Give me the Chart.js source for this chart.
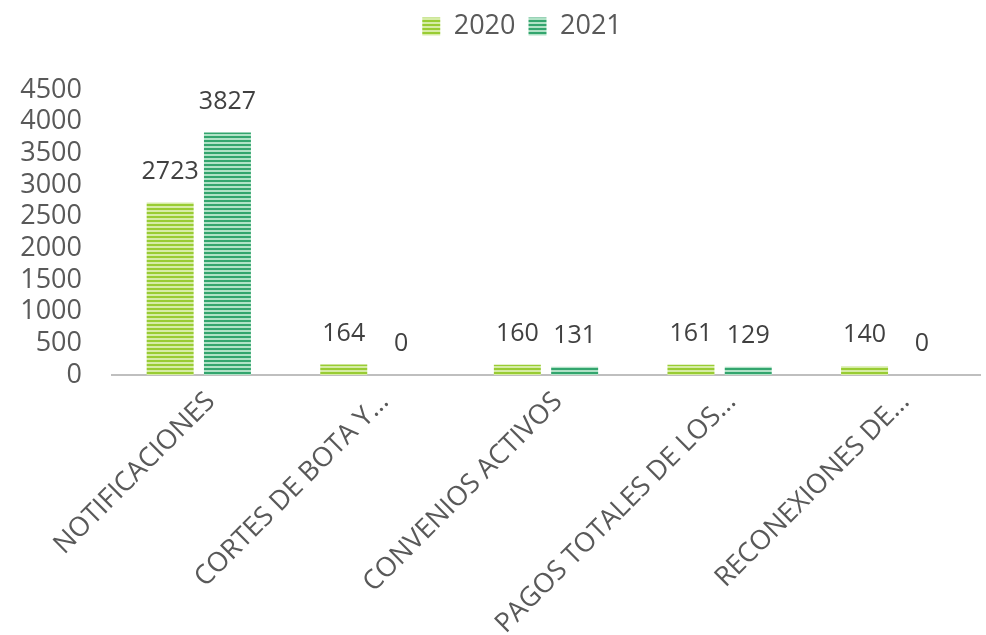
<!DOCTYPE html>
<html>
<head>
<meta charset="utf-8">
<script src="https://cdn.jsdelivr.net/npm/chart.js@4/dist/chart.umd.min.js"></script>
<style>
  body { margin: 0; background: #fff; }
  #wrap { width: 986px; height: 635px; }
</style>
</head>
<body>
<div id="wrap"><canvas id="grafico"></canvas></div>
<script>
const categorias = ["NOTIFICACIONES", "CORTES DE BOTA Y…", "CONVENIOS ACTIVOS", "PAGOS TOTALES DE LOS…", "RECONEXIONES DE…"];
const datos2020 = [2723, 164, 160, 161, 140];
const datos2021 = [3827, 0, 131, 129, 0];
const ticksY = [0, 500, 1000, 1500, 2000, 2500, 3000, 3500, 4000, 4500];

// barras con rayas horizontales
function rayas(oscuro, claro) {
    const c = document.createElement("canvas");
    c.width = 4; c.height = 4;
    const ctx = c.getContext("2d");
    ctx.fillStyle = claro;
    ctx.fillRect(0, 0, 4, 4);
    ctx.fillStyle = oscuro;
    ctx.fillRect(0, 0, 4, 2);
    return ctx.createPattern(c, "repeat");
}

const etiquetas = {
    id: "etiquetas",
    afterDatasetsDraw(chart) {
        const ctx = chart.ctx;
        ctx.save();
        ctx.font = "25px 'Open Sans'";
        ctx.fillStyle = "#404040";
        ctx.textAlign = "center";
        ctx.textBaseline = "middle";
        chart.data.datasets.forEach((ds, i) => {
            chart.getDatasetMeta(i).data.forEach((bar, j) => {
                ctx.fillText(ds.data[j], bar.x, bar.y - 31);
            });
        });
        ctx.restore();
    }
};

// espacio extra bajo la leyenda y un poco corrida a la derecha
const espacioLeyenda = {
    id: "espacioLeyenda",
    beforeInit(chart) {
        const leyenda = chart.legend;
        const fit = leyenda.fit;
        leyenda.fit = function () {
            fit.bind(leyenda)();
            this.height += 40;
        };
        const dibujar = leyenda.draw;
        leyenda.draw = function () {
            chart.ctx.save();
            chart.ctx.translate(32, 0);
            dibujar.bind(leyenda)();
            chart.ctx.restore();
        };
    }
};

new Chart(document.getElementById("grafico"), {
    type: "bar",
    data: {
        labels: categorias,
        datasets: [
            { label: "2020", data: datos2020, backgroundColor: rayas("#99CC33", "#D6ECA6") },
            { label: "2021", data: datos2021, backgroundColor: rayas("#33A56E", "#B0E2C6") }
        ]
    },
    options: {
        responsive: true,
        maintainAspectRatio: false,
        animation: false,
        categoryPercentage: 0.66,
        barPercentage: 0.82,
        layout: { padding: { left: 0, right: 6, top: 0, bottom: 0 } },
        plugins: {
            legend: {
                position: "top",
                labels: {
                    font: { family: "'Open Sans'", size: 27 },
                    color: "#595959",
                    boxWidth: 18,
                    boxHeight: 18,
                    padding: 13
                }
            },
            tooltip: { enabled: false }
        },
        scales: {
            x: {
                grid: { display: false },
                border: { display: true, color: "#BFBFBF", width: 2 },
                afterFit: (s) => { s.paddingLeft = 0; s.paddingRight = 0; s.height = 260; },
                ticks: {
                    font: { family: "'Open Sans'", size: 27 },
                    color: "#595959",
                    minRotation: 45,
                    maxRotation: 45,
                    autoSkip: false,
                    labelOffset: 12
                }
            },
            y: {
                min: 0,
                max: 4500,
                afterBuildTicks: (ax) => { ax.ticks = ticksY.map(v => ({ value: v })); },
                afterFit: (s) => { s.width = 112; },
                grid: { display: false },
                border: { display: false },
                ticks: {
                    font: { family: "'Open Sans'", size: 27 },
                    color: "#595959",
                    padding: 22,
                    autoSkip: false,
                    callback: (v) => String(v)
                }
            }
        }
    },
    plugins: [etiquetas, espacioLeyenda]
});
</script>
</body>
</html>
